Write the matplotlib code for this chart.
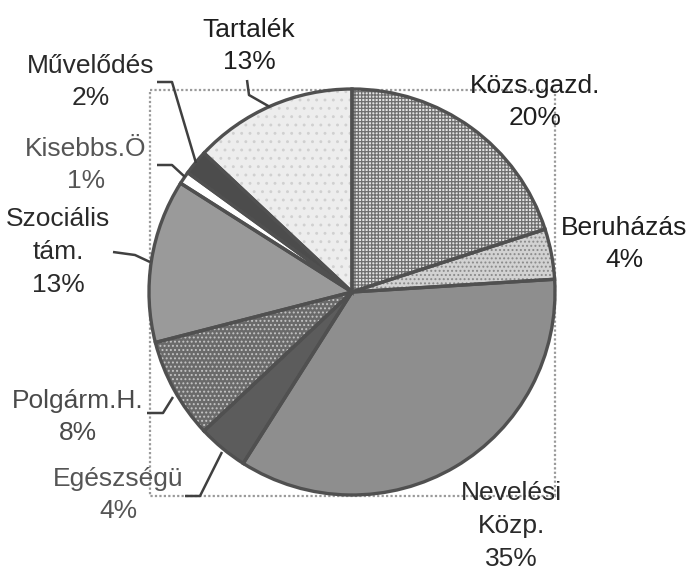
import matplotlib.pyplot as plt
from matplotlib.patches import Rectangle

plt.rcParams['font.family'] = ['Liberation Sans', 'DejaVu Sans']
plt.rcParams['hatch.linewidth'] = 0.9

# budget shares, clockwise from the top
labels = ['Közs.gazd.', 'Beruházás', 'Nevelési\nKözp.', 'Egészségü', 'Polgárm.H.',
          'Szociális\ntám.', 'Kisebbs.Ö', 'Művelődés', 'Tartalék']
shares = [20, 4, 35, 4, 8, 13, 1, 2, 13]

faces = ['#e2e2e2', '#d2d2d2', '#8e8e8e', '#5c5c5c', '#6a6a6a',
         '#9a9a9a', '#ffffff', '#4c4c4c', '#ededed']
hatches = ['+++++', '....', None, None, '....', None, None, None, '..']
hatch_cols = ['#6e6e6e', '#8a8a8a', None, None, '#c4c4c4', None, None, None, '#d0d0d0']

W, H = 690, 573
fig = plt.figure(figsize=(W / 100, H / 100), dpi=100)
ax = fig.add_axes([0, 0, 1, 1])
ax.set_xlim(0, W)
ax.set_ylim(H, 0)  # image-like coords, y down
ax.set_aspect('equal')
ax.axis('off')

cx, cy, r = 352, 292, 203

# plot-area frame
ax.add_patch(Rectangle((150, 90), 405, 406, fill=False, ec='#9a9a9a',
                       lw=1.6, ls=(0, (1, 1)), zorder=0))

# with the y axis flipped, counterclock=True runs clockwise on screen
kw = dict(center=(cx, cy), radius=r, startangle=-90, counterclock=True)
w1, _ = ax.pie(shares, colors=faces, wedgeprops=dict(lw=0), **kw)
w2, _ = ax.pie(shares, colors=['none'] * len(shares), wedgeprops=dict(lw=0), **kw)
for w, h, hc in zip(w2, hatches, hatch_cols):
    if h:
        w.set_hatch(h)
        w.set_edgecolor(hc)
    else:
        w.set_visible(False)
ax.pie(shares, colors=['none'] * len(shares),
       wedgeprops=dict(lw=2.4, edgecolor='#505050'), **kw)
ax.set_xlim(0, W)
ax.set_ylim(H, 0)

# label text positions (centre of text block) and leader lines
text_pos = [(535, 102), (624, 244), (511, 526), (118, 495), (78, 417),
            (58, 252), (86, 165), (91, 82), (249, 46)]
text_col = ['#1e1e1e', '#1e1e1e', '#2a2a2a', '#555555', '#4a4a4a',
            '#2a2a2a', '#555555', '#2a2a2a', '#1e1e1e']
leaders = {
    'Tartalék': [(247, 80), (249, 95), (270, 107)],
    'Művelődés': [(157, 82), (172, 82), (196, 163)],
    'Kisebbs.Ö': [(157, 165), (172, 165), (185, 177)],
    'Szociális\ntám.': [(113, 252), (135, 255), (150, 262)],
    'Polgárm.H.': [(147, 413), (163, 413), (173, 397)],
    'Egészségü': [(185, 496), (200, 496), (222, 452)],
}

for lab, v, (x, y), c in zip(labels, shares, text_pos, text_col):
    ax.text(x, y, f'{lab}\n{v}%', ha='center', va='center', fontsize=19,
            color=c, linespacing=1.47)
    if lab in leaders:
        xs, ys = zip(*leaders[lab])
        ax.plot(xs, ys, color='#404040', lw=1.8, solid_capstyle='butt')

fig.savefig('out.png', dpi=100)
plt.close(fig)
